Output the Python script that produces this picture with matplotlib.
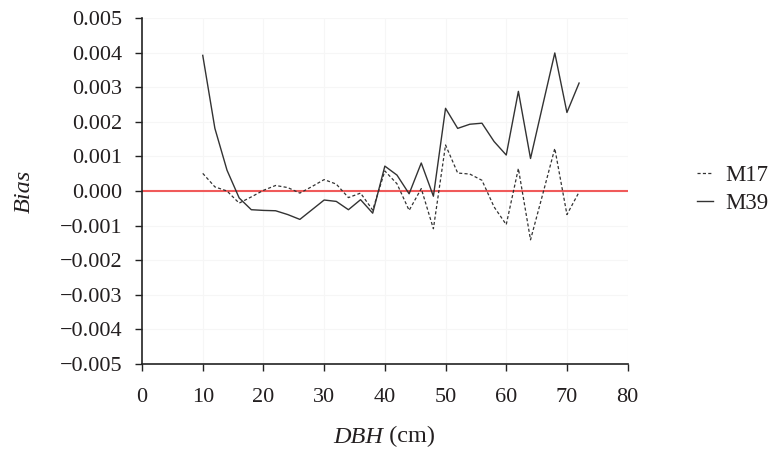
import matplotlib
matplotlib.use("Agg")
import matplotlib.pyplot as plt
from matplotlib.ticker import FuncFormatter, MultipleLocator
from matplotlib.offsetbox import TextArea, HPacker, AnchoredOffsetbox

plt.rcParams['font.family'] = ['Liberation Serif', 'DejaVu Serif']

dbh = [10, 12, 14, 16, 18, 20, 22, 24, 26, 28, 30, 32, 34, 36, 38, 40,
       42, 44, 46, 48, 50, 52, 54, 56, 58, 60, 62, 64, 66, 68, 70, 72]

m17 = [0.00051, 0.00012, 0.00000, -0.00035, -0.00017, 0.00002, 0.00016, 0.00010,
       -0.00006, 0.00013, 0.00033, 0.00020, -0.00019, -0.00006, -0.00055, 0.00058,
       0.00021, -0.00056, 0.00007, -0.00109, 0.00133, 0.00052, 0.00049, 0.00031,
       -0.00046, -0.00097, 0.00065, -0.00141, -0.00010, 0.00123, -0.00068, -0.00003]

m39 = [0.00392, 0.00181, 0.00060, -0.00020, -0.00054, -0.00056, -0.00057, -0.00068,
       -0.00082, -0.00054, -0.00026, -0.00030, -0.00054, -0.00025, -0.00064, 0.00072,
       0.00046, -0.00008, 0.00081, -0.00015, 0.00239, 0.00181, 0.00193, 0.00196,
       0.00143, 0.00104, 0.00288, 0.00094, 0.00247, 0.00399, 0.00227, 0.00312]

TXT = '#231f20'

fig = plt.figure(figsize=(7.72, 4.5), dpi=100)
ax = fig.add_axes([0.184, 0.191, 0.629, 0.769])

for v in range(10, 81, 10):
    ax.axvline(v, color='#f6f6f6', lw=0.8, zorder=0)
for v in range(-4, 6):
    ax.axhline(v * 0.001, color='#f6f6f6', lw=0.8, zorder=0)

ax.axhline(0, color='#f05a5a', lw=1.5, zorder=1)
l1, = ax.plot(dbh, m17, color='#333333', lw=0.9, linestyle=(0, (2.5, 1.8)), label='M17', zorder=2)
l2, = ax.plot(dbh, m39, color='#333333', lw=1.0, label='M39', zorder=2)

ax.set_xlim(0, 80)
ax.set_ylim(-0.005, 0.005)
ax.xaxis.set_major_locator(MultipleLocator(10))
ax.yaxis.set_major_locator(MultipleLocator(0.001))

def yfmt(v, pos):
    s = f"{abs(v):.3f}"
    if v < -1e-9:
        return "\u2212" + s
    return s
ax.yaxis.set_major_formatter(FuncFormatter(yfmt))

for s in ['top', 'right']:
    ax.spines[s].set_visible(False)
for s in ['left', 'bottom']:
    ax.spines[s].set_color('#222222')
    ax.spines[s].set_linewidth(1.2)

ax.tick_params(axis='both', labelsize=16, direction='out', length=5.2, width=1.0,
               colors='#222222', labelcolor=TXT)
ax.tick_params(axis='y', pad=9)
ax.tick_params(axis='x', pad=12)

ax.set_ylabel('Bias', fontsize=17.5, fontstyle='italic', color=TXT, labelpad=18)

t1 = TextArea('DBH', textprops=dict(fontsize=17.5, fontstyle='italic', color=TXT))
t2 = TextArea(' (cm)', textprops=dict(fontsize=17.5, color=TXT))
pack = HPacker(children=[t1, t2], align='baseline', pad=0, sep=0)
ab = AnchoredOffsetbox(loc='center', child=pack, frameon=False,
                       bbox_to_anchor=(0.4975, 0.029), bbox_transform=fig.transFigure,
                       pad=0, borderpad=0)
fig.add_artist(ab)

fig.legend(handles=[l1, l2], loc='center left', bbox_to_anchor=(0.903, 0.578),
           frameon=False, fontsize=16.5, handlelength=0.7, handletextpad=0.52,
           labelspacing=0.3, borderpad=0, borderaxespad=0, labelcolor=TXT)

fig.savefig('out.png', dpi=100)
